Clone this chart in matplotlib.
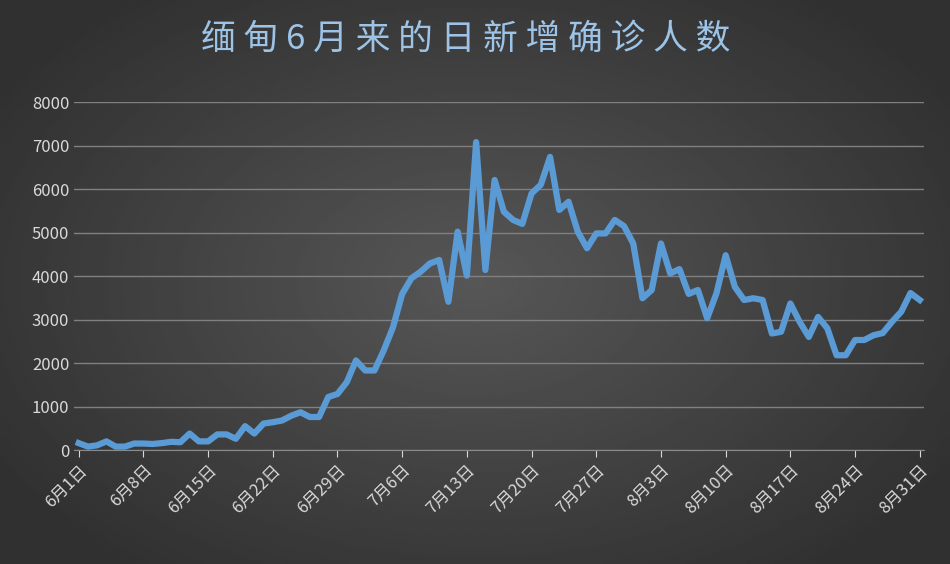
import matplotlib
matplotlib.use("Agg")
import matplotlib.pyplot as plt
import numpy as np
import datetime as dt

plt.rcParams['font.family'] = ['Noto Sans CJK SC', 'DejaVu Sans']

cases = [160, 80, 110, 200, 80, 80, 150, 150, 140, 160, 190, 180, 380, 200, 200, 360,
         360, 260, 550, 380, 610, 640, 680, 790, 870, 760, 760, 1220, 1290, 1560,
         2060, 1830, 1830, 2290, 2820, 3590, 3950, 4100, 4290, 4370, 3410, 5020, 4010,
         7080, 4140, 6210, 5480, 5290, 5200, 5900, 6100, 6740, 5520, 5710, 5020, 4640,
         4980, 4980, 5290, 5150, 4750, 3490, 3680, 4750, 4060, 4160, 3590, 3680, 3030,
         3600, 4480, 3750, 3450, 3490, 3450, 2680, 2720, 3370, 2950, 2600, 3060, 2800,
         2180, 2180, 2530, 2530, 2640, 2690, 2950, 3180, 3610, 3450]
start = dt.date(2021, 6, 1)
dates = [start + dt.timedelta(days=i) for i in range(len(cases))]
tick_idx = list(range(0, len(cases), 7))
tick_labels = [f"{dates[i].month}月{dates[i].day}日" for i in tick_idx]

fig = plt.figure(figsize=(9.5, 5.64), dpi=100)
bg = fig.add_axes([0, 0, 1, 1])
xx = np.linspace(-1, 1, 300)
yy = np.linspace(-1, 1, 200)
X, Y = np.meshgrid(xx, yy)
r = np.clip(np.sqrt(X**2 * 0.7 + Y**2 * 0.6), 0, 1)
grad = 0.34 - 0.15 * r
bg.imshow(grad, cmap='gray', vmin=0, vmax=1, aspect='auto', extent=[0, 1, 0, 1])
bg.axis('off')

ax = fig.add_axes([0.078, 0.202, 0.895, 0.617])
ax.patch.set_alpha(0)
x = np.arange(len(cases))
ax.plot(x, cases, color='#5b9bd5', lw=4.5, solid_joinstyle='round')
ax.set_ylim(0, 8000)
ax.set_xlim(-0.5, len(cases) - 0.5)
ax.set_yticks(range(0, 8001, 1000))
ax.grid(axis='y', color='#808080', lw=1)
ax.set_axisbelow(True)
for s in ['top', 'right', 'left']:
    ax.spines[s].set_visible(False)
ax.spines['bottom'].set_color('#8a8a8a')
ax.set_xticks(tick_idx)
ax.set_xticklabels(tick_labels, rotation=45, ha='right', rotation_mode='anchor')
ax.tick_params(axis='x', colors='#d9d9d9', labelsize=12, length=5)
ax.tick_params(axis='y', colors='#d9d9d9', labelsize=12, length=0)

fig.text(0.49, 0.93, '缅 甸 6 月 来 的 日 新 增 确 诊 人 数', ha='center', va='center',
         fontsize=25, color='#9dc3e6')
fig.savefig('out.png', dpi=100)
